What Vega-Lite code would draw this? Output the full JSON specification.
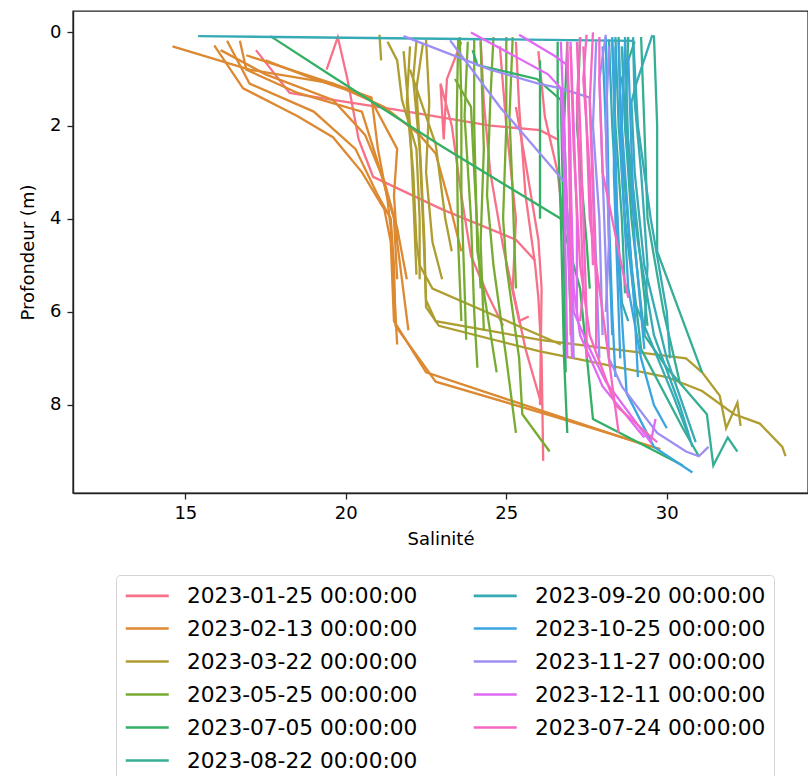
{
"$schema": "https://vega.github.io/schema/vega-lite/v6.json",
"width": 735, "height": 482,
"autosize": {"type": "none"},
"padding": {"left": 73, "top": 11, "right": 0, "bottom": 283},
"background": "white",
"datasets": {"dates": [
{"g":"A","date":"2023-01-25 00:00:00"},{"g":"B","date":"2023-02-13 00:00:00"},{"g":"C","date":"2023-03-22 00:00:00"},{"g":"D","date":"2023-05-25 00:00:00"},{"g":"E","date":"2023-07-05 00:00:00"},{"g":"F","date":"2023-08-22 00:00:00"},{"g":"G","date":"2023-09-20 00:00:00"},{"g":"H","date":"2023-10-25 00:00:00"},{"g":"I","date":"2023-11-27 00:00:00"},{"g":"J","date":"2023-12-11 00:00:00"},{"g":"K","date":"2023-07-24 00:00:00"}
]},
"data": {"values": [
{"g":"A","p":"A1","s":17.2,"z":0.38},{"g":"A","p":"A1","s":18.25,"z":1.3},{"g":"A","p":"A1","s":19.6,"z":1.45},{"g":"A","p":"A1","s":21.5,"z":1.65},{"g":"A","p":"A1","s":24.5,"z":2.0},{"g":"A","p":"A1","s":26.05,"z":2.1},{"g":"A","p":"A1","s":26.6,"z":2.3},
{"g":"A","p":"A2","s":19.4,"z":0.8},{"g":"A","p":"A2","s":19.75,"z":0.1},{"g":"A","p":"A2","s":20.05,"z":1.0},{"g":"A","p":"A2","s":20.4,"z":2.3},{"g":"A","p":"A2","s":20.85,"z":3.1},{"g":"A","p":"A2","s":23.0,"z":3.8},{"g":"A","p":"A2","s":25.3,"z":4.45},{"g":"A","p":"A2","s":25.9,"z":4.9},
{"g":"A","p":"A3","s":23.6,"z":0.2},{"g":"A","p":"A3","s":23.15,"z":1.0},{"g":"A","p":"A3","s":23.05,"z":2.3},{"g":"A","p":"A3","s":22.95,"z":1.1},{"g":"A","p":"A3","s":23.3,"z":2.0},{"g":"A","p":"A3","s":23.6,"z":3.5},{"g":"A","p":"A3","s":23.9,"z":4.8},{"g":"A","p":"A3","s":24.4,"z":5.6},{"g":"A","p":"A3","s":24.9,"z":6.3},
{"g":"A","p":"A4","s":24.2,"z":0.15},{"g":"A","p":"A4","s":24.3,"z":1.5},{"g":"A","p":"A4","s":24.5,"z":3.0},{"g":"A","p":"A4","s":24.9,"z":4.6},{"g":"A","p":"A4","s":25.4,"z":6.2},{"g":"A","p":"A4","s":25.7,"z":6.1},
{"g":"A","p":"A5","s":25.3,"z":0.2},{"g":"A","p":"A5","s":25.4,"z":1.6},{"g":"A","p":"A5","s":25.6,"z":3.5},{"g":"A","p":"A5","s":25.9,"z":5.0},{"g":"A","p":"A5","s":26.0,"z":5.7},{"g":"A","p":"A5","s":26.1,"z":7.0},{"g":"A","p":"A5","s":26.15,"z":9.2},
{"g":"A","p":"A6","s":25.3,"z":1.6},{"g":"A","p":"A6","s":25.6,"z":2.8},{"g":"A","p":"A6","s":26.0,"z":4.45},{"g":"A","p":"A6","s":26.1,"z":5.5},{"g":"A","p":"A6","s":26.05,"z":8.0},
{"g":"A","p":"A7","s":24.8,"z":0.3},{"g":"A","p":"A7","s":25.0,"z":2.0},{"g":"A","p":"A7","s":25.3,"z":4.0},{"g":"A","p":"A7","s":25.2,"z":5.5},{"g":"A","p":"A7","s":25.6,"z":6.8},{"g":"A","p":"A7","s":26.1,"z":8.0},
{"g":"A","p":"A8","s":26.0,"z":0.4},{"g":"A","p":"A8","s":26.2,"z":1.8},{"g":"A","p":"A8","s":26.6,"z":3.0},{"g":"A","p":"A8","s":26.8,"z":4.2},
{"g":"B","p":"B1","s":14.6,"z":0.3},{"g":"B","p":"B1","s":17.0,"z":0.8},{"g":"B","p":"B1","s":19.6,"z":1.1},{"g":"B","p":"B1","s":20.8,"z":1.4},{"g":"B","p":"B1","s":21.0,"z":2.5},{"g":"B","p":"B1","s":21.3,"z":3.6},{"g":"B","p":"B1","s":21.4,"z":4.2},{"g":"B","p":"B1","s":21.5,"z":5.5},{"g":"B","p":"B1","s":21.6,"z":6.7},
{"g":"B","p":"B2","s":15.9,"z":0.28},{"g":"B","p":"B2","s":16.8,"z":1.2},{"g":"B","p":"B2","s":18.5,"z":1.8},{"g":"B","p":"B2","s":19.6,"z":2.25},{"g":"B","p":"B2","s":20.5,"z":3.0},{"g":"B","p":"B2","s":21.2,"z":3.8},{"g":"B","p":"B2","s":21.4,"z":4.5},{"g":"B","p":"B2","s":21.5,"z":6.2},{"g":"B","p":"B2","s":22.5,"z":7.3},{"g":"B","p":"B2","s":26.0,"z":8.1},{"g":"B","p":"B2","s":29.5,"z":8.9},
{"g":"B","p":"B3","s":16.3,"z":0.18},{"g":"B","p":"B3","s":17.0,"z":1.1},{"g":"B","p":"B3","s":19.0,"z":1.7},{"g":"B","p":"B3","s":20.3,"z":2.5},{"g":"B","p":"B3","s":21.0,"z":3.5},{"g":"B","p":"B3","s":21.4,"z":4.0},{"g":"B","p":"B3","s":21.5,"z":5.0},{"g":"B","p":"B3","s":21.55,"z":6.3},{"g":"B","p":"B3","s":22.8,"z":7.5},{"g":"B","p":"B3","s":26.5,"z":8.25},{"g":"B","p":"B3","s":29.8,"z":8.95},
{"g":"B","p":"B4","s":16.7,"z":0.18},{"g":"B","p":"B4","s":16.9,"z":0.8},{"g":"B","p":"B4","s":18.5,"z":1.3},{"g":"B","p":"B4","s":20.5,"z":1.7},{"g":"B","p":"B4","s":21.0,"z":2.8},{"g":"B","p":"B4","s":21.5,"z":4.0},{"g":"B","p":"B4","s":21.6,"z":5.3},
{"g":"B","p":"B5","s":16.1,"z":0.38},{"g":"B","p":"B5","s":17.5,"z":0.9},{"g":"B","p":"B5","s":19.6,"z":1.45},{"g":"B","p":"B5","s":20.6,"z":2.2},{"g":"B","p":"B5","s":21.2,"z":3.2},{"g":"B","p":"B5","s":21.6,"z":4.2},{"g":"B","p":"B5","s":21.9,"z":5.3},
{"g":"B","p":"B6","s":16.9,"z":0.49},{"g":"B","p":"B6","s":19.6,"z":1.1},{"g":"B","p":"B6","s":21.2,"z":1.6},{"g":"B","p":"B6","s":22.3,"z":2.2},{"g":"B","p":"B6","s":22.8,"z":2.6},{"g":"B","p":"B6","s":23.2,"z":3.6},{"g":"B","p":"B6","s":23.6,"z":4.7},
{"g":"B","p":"B7","s":17.5,"z":0.6},{"g":"B","p":"B7","s":19.0,"z":1.0},{"g":"B","p":"B7","s":20.75,"z":1.4},{"g":"B","p":"B7","s":21.6,"z":2.5},{"g":"B","p":"B7","s":21.5,"z":3.5},{"g":"B","p":"B7","s":21.6,"z":4.5},{"g":"B","p":"B7","s":21.95,"z":6.4},
{"g":"C","p":"C1","s":21.05,"z":0.05},{"g":"C","p":"C1","s":21.1,"z":0.6},
{"g":"C","p":"C2","s":21.3,"z":0.2},{"g":"C","p":"C2","s":21.6,"z":0.6},{"g":"C","p":"C2","s":21.75,"z":1.45},{"g":"C","p":"C2","s":22.2,"z":2.5},{"g":"C","p":"C2","s":22.3,"z":4.0},{"g":"C","p":"C2","s":22.3,"z":5.3},
{"g":"C","p":"C3","s":22.0,"z":0.3},{"g":"C","p":"C3","s":21.9,"z":1.5},{"g":"C","p":"C3","s":22.1,"z":3.0},{"g":"C","p":"C3","s":22.2,"z":4.5},{"g":"C","p":"C3","s":22.3,"z":5.0},{"g":"C","p":"C3","s":22.7,"z":5.5},{"g":"C","p":"C3","s":26.7,"z":6.7},
{"g":"C","p":"C4","s":22.2,"z":0.2},{"g":"C","p":"C4","s":22.1,"z":1.0},{"g":"C","p":"C4","s":22.3,"z":2.5},{"g":"C","p":"C4","s":22.4,"z":4.0},{"g":"C","p":"C4","s":22.5,"z":5.75},{"g":"C","p":"C4","s":22.8,"z":6.2},{"g":"C","p":"C4","s":26.05,"z":6.6},{"g":"C","p":"C4","s":30.6,"z":7.0},{"g":"C","p":"C4","s":31.1,"z":7.3},{"g":"C","p":"C4","s":31.65,"z":7.8},{"g":"C","p":"C4","s":31.85,"z":8.5},{"g":"C","p":"C4","s":32.2,"z":7.95},{"g":"C","p":"C4","s":32.3,"z":8.45},
{"g":"C","p":"C5","s":22.4,"z":0.25},{"g":"C","p":"C5","s":22.2,"z":1.2},{"g":"C","p":"C5","s":22.35,"z":3.0},{"g":"C","p":"C5","s":22.45,"z":4.5},{"g":"C","p":"C5","s":22.5,"z":5.9},{"g":"C","p":"C5","s":22.9,"z":6.3},{"g":"C","p":"C5","s":26.05,"z":6.85},{"g":"C","p":"C5","s":30.0,"z":7.4},{"g":"C","p":"C5","s":31.1,"z":7.7},{"g":"C","p":"C5","s":32.1,"z":8.2},{"g":"C","p":"C5","s":32.9,"z":8.4},{"g":"C","p":"C5","s":33.6,"z":8.9},{"g":"C","p":"C5","s":33.7,"z":9.1},
{"g":"C","p":"C6","s":22.0,"z":0.8},{"g":"C","p":"C6","s":22.6,"z":2.0},{"g":"C","p":"C6","s":22.8,"z":2.4},{"g":"C","p":"C6","s":23.1,"z":4.0},{"g":"C","p":"C6","s":23.3,"z":4.7},
{"g":"C","p":"C7","s":22.5,"z":0.15},{"g":"C","p":"C7","s":22.6,"z":1.5},{"g":"C","p":"C7","s":22.5,"z":3.0},{"g":"C","p":"C7","s":22.7,"z":4.5},{"g":"C","p":"C7","s":23.0,"z":5.3},
{"g":"C","p":"C8","s":21.8,"z":0.4},{"g":"C","p":"C8","s":22.0,"z":2.0},{"g":"C","p":"C8","s":22.1,"z":3.5},{"g":"C","p":"C8","s":22.2,"z":5.2},
{"g":"D","p":"D1","s":23.55,"z":0.1},{"g":"D","p":"D1","s":23.6,"z":1.5},{"g":"D","p":"D1","s":23.6,"z":3.5},{"g":"D","p":"D1","s":23.7,"z":5.5},{"g":"D","p":"D1","s":23.75,"z":6.6},
{"g":"D","p":"D2","s":23.8,"z":0.2},{"g":"D","p":"D2","s":23.7,"z":1.8},{"g":"D","p":"D2","s":23.9,"z":4.0},{"g":"D","p":"D2","s":24.0,"z":6.0},{"g":"D","p":"D2","s":24.1,"z":7.2},
{"g":"D","p":"D3","s":24.0,"z":0.15},{"g":"D","p":"D3","s":24.0,"z":2.0},{"g":"D","p":"D3","s":24.1,"z":4.7},{"g":"D","p":"D3","s":24.4,"z":6.0},{"g":"D","p":"D3","s":24.7,"z":7.3},
{"g":"D","p":"D4","s":24.6,"z":0.1},{"g":"D","p":"D4","s":24.5,"z":1.5},{"g":"D","p":"D4","s":24.4,"z":3.5},{"g":"D","p":"D4","s":24.6,"z":5.0},{"g":"D","p":"D4","s":25.0,"z":7.0},{"g":"D","p":"D4","s":25.3,"z":8.6},
{"g":"D","p":"D5","s":25.0,"z":0.1},{"g":"D","p":"D5","s":25.0,"z":2.0},{"g":"D","p":"D5","s":24.9,"z":4.0},{"g":"D","p":"D5","s":25.0,"z":5.0},{"g":"D","p":"D5","s":25.4,"z":7.0},{"g":"D","p":"D5","s":25.5,"z":8.2},{"g":"D","p":"D5","s":26.35,"z":9.0},
{"g":"D","p":"D6","s":25.2,"z":0.1},{"g":"D","p":"D6","s":25.1,"z":1.8},{"g":"D","p":"D6","s":25.2,"z":3.5},{"g":"D","p":"D6","s":25.3,"z":5.5},
{"g":"D","p":"D7","s":23.5,"z":0.15},{"g":"D","p":"D7","s":23.45,"z":2.0},{"g":"D","p":"D7","s":23.5,"z":4.5},{"g":"D","p":"D7","s":23.6,"z":6.2},
{"g":"D","p":"D8","s":24.2,"z":0.2},{"g":"D","p":"D8","s":24.3,"z":2.5},{"g":"D","p":"D8","s":24.2,"z":4.5},{"g":"D","p":"D8","s":24.3,"z":6.4},
{"g":"D","p":"D9","s":23.4,"z":1.0},{"g":"D","p":"D9","s":23.9,"z":1.6},{"g":"D","p":"D9","s":24.0,"z":3.0},{"g":"D","p":"D9","s":24.2,"z":5.5},
{"g":"E","p":"E1","s":17.65,"z":0.08},{"g":"E","p":"E1","s":19.6,"z":0.95},{"g":"E","p":"E1","s":23.0,"z":2.45},{"g":"E","p":"E1","s":26.7,"z":4.0},{"g":"E","p":"E1","s":26.75,"z":5.5},{"g":"E","p":"E1","s":26.8,"z":7.0},{"g":"E","p":"E1","s":26.9,"z":8.6},
{"g":"E","p":"E2","s":23.95,"z":0.38},{"g":"E","p":"E2","s":24.1,"z":0.7},{"g":"E","p":"E2","s":25.95,"z":1.0},{"g":"E","p":"E2","s":26.7,"z":1.45},{"g":"E","p":"E2","s":26.75,"z":3.0},{"g":"E","p":"E2","s":26.8,"z":5.0},{"g":"E","p":"E2","s":26.85,"z":7.3},
{"g":"E","p":"E3","s":26.05,"z":0.6},{"g":"E","p":"E3","s":26.05,"z":2.5},{"g":"E","p":"E3","s":26.05,"z":4.0},
{"g":"E","p":"E4","s":26.6,"z":0.2},{"g":"E","p":"E4","s":26.6,"z":2.0},{"g":"E","p":"E4","s":26.7,"z":4.0},{"g":"E","p":"E4","s":27.3,"z":5.5},{"g":"E","p":"E4","s":27.7,"z":8.3},{"g":"E","p":"E4","s":30.5,"z":9.3},
{"g":"E","p":"E5","s":26.9,"z":0.2},{"g":"E","p":"E5","s":26.8,"z":2.0},{"g":"E","p":"E5","s":26.9,"z":4.0},{"g":"E","p":"E5","s":27.0,"z":6.0},
{"g":"E","p":"E6","s":27.3,"z":0.1},{"g":"E","p":"E6","s":27.2,"z":2.0},{"g":"E","p":"E6","s":27.5,"z":4.5},{"g":"E","p":"E6","s":27.6,"z":5.5},
{"g":"F","p":"F1","s":29.6,"z":0.06},{"g":"F","p":"F1","s":29.7,"z":2.0},{"g":"F","p":"F1","s":29.7,"z":4.7},{"g":"F","p":"F1","s":30.4,"z":6.0},{"g":"F","p":"F1","s":31.1,"z":7.3},
{"g":"F","p":"F2","s":28.8,"z":0.1},{"g":"F","p":"F2","s":28.7,"z":2.0},{"g":"F","p":"F2","s":28.9,"z":4.0},{"g":"F","p":"F2","s":29.3,"z":6.5},{"g":"F","p":"F2","s":30.0,"z":7.2},{"g":"F","p":"F2","s":31.25,"z":8.2},{"g":"F","p":"F2","s":31.45,"z":9.3},{"g":"F","p":"F2","s":31.9,"z":8.7},{"g":"F","p":"F2","s":32.2,"z":9.0},
{"g":"F","p":"F3","s":29.0,"z":0.2},{"g":"F","p":"F3","s":28.6,"z":1.0},{"g":"F","p":"F3","s":28.9,"z":3.0},{"g":"F","p":"F3","s":29.2,"z":5.0},{"g":"F","p":"F3","s":29.4,"z":6.3},
{"g":"F","p":"F4","s":28.5,"z":0.1},{"g":"F","p":"F4","s":28.6,"z":2.5},{"g":"F","p":"F4","s":28.9,"z":5.0},{"g":"F","p":"F4","s":29.2,"z":6.8},{"g":"F","p":"F4","s":30.5,"z":8.5},{"g":"F","p":"F4","s":31.0,"z":9.1},
{"g":"F","p":"F5","s":29.2,"z":0.1},{"g":"F","p":"F5","s":29.3,"z":2.0},{"g":"F","p":"F5","s":29.4,"z":4.0},{"g":"F","p":"F5","s":29.9,"z":6.0},{"g":"F","p":"F5","s":30.4,"z":7.5},
{"g":"F","p":"F6","s":28.3,"z":0.2},{"g":"F","p":"F6","s":28.4,"z":2.0},{"g":"F","p":"F6","s":28.6,"z":4.0},{"g":"F","p":"F6","s":28.7,"z":5.6},
{"g":"G","p":"G1","s":15.4,"z":0.08},{"g":"G","p":"G1","s":28.95,"z":0.18},{"g":"G","p":"G1","s":29.0,"z":1.5},{"g":"G","p":"G1","s":29.2,"z":3.0},{"g":"G","p":"G1","s":29.4,"z":5.0},{"g":"G","p":"G1","s":29.3,"z":6.5},
{"g":"G","p":"G2","s":29.55,"z":0.06},{"g":"G","p":"G2","s":29.05,"z":1.1},{"g":"G","p":"G2","s":28.9,"z":1.5},{"g":"G","p":"G2","s":29.0,"z":3.0},{"g":"G","p":"G2","s":29.3,"z":5.0},{"g":"G","p":"G2","s":30.0,"z":7.0},{"g":"G","p":"G2","s":30.9,"z":8.8},
{"g":"G","p":"G3","s":28.4,"z":0.1},{"g":"G","p":"G3","s":28.5,"z":2.0},{"g":"G","p":"G3","s":28.7,"z":4.0},{"g":"G","p":"G3","s":29.0,"z":5.8},{"g":"G","p":"G3","s":30.2,"z":7.8},{"g":"G","p":"G3","s":30.7,"z":8.7},
{"g":"G","p":"G4","s":28.2,"z":0.15},{"g":"G","p":"G4","s":28.3,"z":2.0},{"g":"G","p":"G4","s":28.5,"z":4.5},{"g":"G","p":"G4","s":28.6,"z":5.8},{"g":"G","p":"G4","s":28.8,"z":6.2},
{"g":"G","p":"G5","s":28.7,"z":0.1},{"g":"G","p":"G5","s":28.8,"z":2.5},{"g":"G","p":"G5","s":29.1,"z":4.5},{"g":"G","p":"G5","s":29.6,"z":6.5},{"g":"G","p":"G5","s":30.4,"z":8.0},{"g":"G","p":"G5","s":30.8,"z":8.9},
{"g":"G","p":"G6","s":28.95,"z":0.1},{"g":"G","p":"G6","s":29.1,"z":2.0},{"g":"G","p":"G6","s":29.5,"z":4.0},{"g":"G","p":"G6","s":30.0,"z":6.0},{"g":"G","p":"G6","s":30.1,"z":7.0},
{"g":"G","p":"G7","s":28.6,"z":0.3},{"g":"G","p":"G7","s":28.7,"z":2.0},{"g":"G","p":"G7","s":28.9,"z":3.5},{"g":"G","p":"G7","s":29.0,"z":4.2},
{"g":"H","p":"H1","s":28.1,"z":0.1},{"g":"H","p":"H1","s":28.15,"z":2.0},{"g":"H","p":"H1","s":28.2,"z":4.0},{"g":"H","p":"H1","s":28.3,"z":6.0},{"g":"H","p":"H1","s":28.4,"z":7.4},
{"g":"H","p":"H2","s":28.3,"z":0.1},{"g":"H","p":"H2","s":28.4,"z":2.5},{"g":"H","p":"H2","s":28.5,"z":5.0},{"g":"H","p":"H2","s":28.75,"z":7.75},{"g":"H","p":"H2","s":29.6,"z":8.9},{"g":"H","p":"H2","s":30.8,"z":9.45},
{"g":"H","p":"H3","s":28.5,"z":0.2},{"g":"H","p":"H3","s":28.6,"z":3.0},{"g":"H","p":"H3","s":28.8,"z":5.5},{"g":"H","p":"H3","s":29.2,"z":7.0},{"g":"H","p":"H3","s":29.6,"z":8.0},{"g":"H","p":"H3","s":30.0,"z":8.5},
{"g":"H","p":"H4","s":28.0,"z":0.3},{"g":"H","p":"H4","s":28.1,"z":2.0},{"g":"H","p":"H4","s":28.2,"z":4.5},{"g":"H","p":"H4","s":28.3,"z":6.5},
{"g":"H","p":"H5","s":28.7,"z":0.2},{"g":"H","p":"H5","s":28.6,"z":2.0},{"g":"H","p":"H5","s":28.8,"z":4.0},{"g":"H","p":"H5","s":29.0,"z":6.0},{"g":"H","p":"H5","s":29.1,"z":7.4},
{"g":"H","p":"H6","s":28.8,"z":0.5},{"g":"H","p":"H6","s":28.9,"z":2.5},{"g":"H","p":"H6","s":29.0,"z":4.5},{"g":"H","p":"H6","s":29.3,"z":6.8},
{"g":"H","p":"H7","s":28.4,"z":0.3},{"g":"H","p":"H7","s":28.35,"z":3.0},{"g":"H","p":"H7","s":28.5,"z":6.0},{"g":"H","p":"H7","s":28.55,"z":7.0},
{"g":"I","p":"I1","s":21.8,"z":0.08},{"g":"I","p":"I1","s":24.5,"z":0.8},{"g":"I","p":"I1","s":26.0,"z":1.1},{"g":"I","p":"I1","s":26.7,"z":1.2},{"g":"I","p":"I1","s":27.6,"z":1.4},{"g":"I","p":"I1","s":27.7,"z":3.0},{"g":"I","p":"I1","s":27.8,"z":5.0},{"g":"I","p":"I1","s":27.9,"z":7.0},
{"g":"I","p":"I2","s":23.25,"z":0.17},{"g":"I","p":"I2","s":24.8,"z":1.6},{"g":"I","p":"I2","s":26.05,"z":2.6},{"g":"I","p":"I2","s":26.8,"z":3.2},{"g":"I","p":"I2","s":27.0,"z":4.5},{"g":"I","p":"I2","s":27.1,"z":7.0},
{"g":"I","p":"I3","s":28.1,"z":0.05},{"g":"I","p":"I3","s":27.9,"z":1.0},{"g":"I","p":"I3","s":28.0,"z":3.0},{"g":"I","p":"I3","s":28.1,"z":5.0},{"g":"I","p":"I3","s":28.2,"z":7.0},{"g":"I","p":"I3","s":28.6,"z":7.6},{"g":"I","p":"I3","s":29.7,"z":8.6},{"g":"I","p":"I3","s":30.6,"z":9.0},{"g":"I","p":"I3","s":31.0,"z":9.1},{"g":"I","p":"I3","s":31.3,"z":8.9},
{"g":"I","p":"I4","s":27.8,"z":0.2},{"g":"I","p":"I4","s":27.7,"z":2.0},{"g":"I","p":"I4","s":27.9,"z":4.0},{"g":"I","p":"I4","s":28.0,"z":6.5},
{"g":"I","p":"I5","s":28.2,"z":0.3},{"g":"I","p":"I5","s":28.1,"z":2.0},{"g":"I","p":"I5","s":28.2,"z":4.5},{"g":"I","p":"I5","s":28.1,"z":6.0},
{"g":"J","p":"J1","s":23.9,"z":0.0},{"g":"J","p":"J1","s":26.3,"z":0.9},{"g":"J","p":"J1","s":26.7,"z":1.2},{"g":"J","p":"J1","s":26.8,"z":3.0},{"g":"J","p":"J1","s":26.85,"z":5.0},{"g":"J","p":"J1","s":26.9,"z":7.0},
{"g":"J","p":"J2","s":25.4,"z":0.05},{"g":"J","p":"J2","s":26.5,"z":0.5},{"g":"J","p":"J2","s":26.9,"z":0.7},{"g":"J","p":"J2","s":27.0,"z":2.5},{"g":"J","p":"J2","s":27.0,"z":4.5},{"g":"J","p":"J2","s":27.1,"z":6.0},{"g":"J","p":"J2","s":27.6,"z":6.8},{"g":"J","p":"J2","s":28.1,"z":7.5},{"g":"J","p":"J2","s":29.5,"z":8.8},{"g":"J","p":"J2","s":29.65,"z":8.3},
{"g":"J","p":"J3","s":26.7,"z":0.2},{"g":"J","p":"J3","s":26.8,"z":2.0},{"g":"J","p":"J3","s":26.9,"z":4.0},{"g":"J","p":"J3","s":27.0,"z":6.0},{"g":"J","p":"J3","s":27.05,"z":7.0},
{"g":"J","p":"J4","s":27.0,"z":0.2},{"g":"J","p":"J4","s":27.1,"z":2.0},{"g":"J","p":"J4","s":27.2,"z":4.0},{"g":"J","p":"J4","s":27.2,"z":6.0},
{"g":"J","p":"J5","s":26.9,"z":0.4},{"g":"J","p":"J5","s":27.0,"z":3.0},{"g":"J","p":"J5","s":27.1,"z":5.5},{"g":"J","p":"J5","s":27.3,"z":6.5},{"g":"J","p":"J5","s":28.0,"z":7.6},{"g":"J","p":"J5","s":29.3,"z":8.7},
{"g":"K","p":"K1","s":27.2,"z":0.2},{"g":"K","p":"K1","s":27.3,"z":2.0},{"g":"K","p":"K1","s":27.4,"z":4.0},{"g":"K","p":"K1","s":27.5,"z":6.0},{"g":"K","p":"K1","s":27.5,"z":7.0},
{"g":"K","p":"K2","s":27.4,"z":0.3},{"g":"K","p":"K2","s":27.5,"z":2.0},{"g":"K","p":"K2","s":27.6,"z":4.0},{"g":"K","p":"K2","s":28.0,"z":6.0},{"g":"K","p":"K2","s":28.5,"z":8.6},
{"g":"K","p":"K3","s":27.0,"z":0.3},{"g":"K","p":"K3","s":27.1,"z":2.5},{"g":"K","p":"K3","s":27.3,"z":5.0},{"g":"K","p":"K3","s":27.6,"z":6.5},{"g":"K","p":"K3","s":28.4,"z":8.0},{"g":"K","p":"K3","s":29.7,"z":8.8},
{"g":"K","p":"K4","s":27.7,"z":0.0},{"g":"K","p":"K4","s":27.6,"z":1.5},{"g":"K","p":"K4","s":27.7,"z":3.5},{"g":"K","p":"K4","s":27.8,"z":5.5},{"g":"K","p":"K4","s":27.8,"z":6.8},
{"g":"K","p":"K5","s":26.9,"z":0.2},{"g":"K","p":"K5","s":26.95,"z":2.0},{"g":"K","p":"K5","s":27.0,"z":5.0},{"g":"K","p":"K5","s":27.0,"z":6.5},
{"g":"K","p":"K6","s":27.9,"z":0.1},{"g":"K","p":"K6","s":27.9,"z":1.0},{"g":"K","p":"K6","s":28.0,"z":3.0},{"g":"K","p":"K6","s":28.8,"z":5.7},
{"g":"K","p":"K7","s":27.5,"z":0.05},{"g":"K","p":"K7","s":27.4,"z":1.0},{"g":"K","p":"K7","s":27.6,"z":3.0},{"g":"K","p":"K7","s":27.7,"z":5.0},
{"g":"K","p":"K8","s":27.3,"z":0.1},{"g":"K","p":"K8","s":27.2,"z":1.5},{"g":"K","p":"K8","s":27.3,"z":3.5},{"g":"K","p":"K8","s":27.4,"z":5.5},{"g":"K","p":"K8","s":27.3,"z":6.2}
]},
"transform": [{"lookup": "g", "from": {"data": {"name": "dates"}, "key": "g", "fields": ["date"]}}],
"mark": {"type": "line", "strokeWidth": 2.3, "clip": true},
"encoding": {
  "x": {"field": "s", "type": "quantitative", "title": "Salinité",
        "scale": {"domain": [11.5, 34.4], "nice": false, "zero": false},
        "axis": {"values": [15, 20, 25, 30], "labelPadding": 5, "titlePadding": 8}},
  "y": {"field": "z", "type": "quantitative", "title": "Profondeur (m)",
        "scale": {"domain": [-0.46, 9.89], "nice": false, "zero": false, "reverse": true},
        "axis": {"values": [0, 2, 4, 6, 8], "labelPadding": 6, "titlePadding": 12}},
  "color": {"field": "date", "type": "nominal",
    "scale": {
      "domain": ["2023-01-25 00:00:00","2023-02-13 00:00:00","2023-03-22 00:00:00","2023-05-25 00:00:00","2023-07-05 00:00:00","2023-08-22 00:00:00","2023-09-20 00:00:00","2023-10-25 00:00:00","2023-11-27 00:00:00","2023-12-11 00:00:00","2023-07-24 00:00:00"],
      "range": ["#f77189","#dc8932","#ae9d31","#77ab31","#33b064","#35ae93","#37abb5","#3ba5e0","#9c8ff4","#e06af4","#f668c2"]},
    "legend": {"title": null, "orient": "none", "legendX": 43, "legendY": 564, "columns": 2,
      "symbolType": "M-1,0H3", "symbolSize": 462, "symbolStrokeWidth": 2.7,
      "labelFont": "DejaVu Sans", "labelFontSize": 21.7, "labelColor": "#000", "labelOffset": 38, "labelLimit": 400,
      "rowPadding": 8, "columnPadding": 50, "padding": 8,
      "strokeColor": "#d4d4d4", "fillColor": "white", "cornerRadius": 4}},
  "detail": {"field": "p"},
  "order": {"value": null}
},
"config": {
  "font": "DejaVu Sans",
  "view": {"stroke": "#222", "strokeWidth": 1.4},
  "axis": {"grid": false, "domainColor": "#222", "domainWidth": 1.4, "tickColor": "#222", "tickWidth": 1.3, "tickSize": 6,
           "labelFont": "DejaVu Sans", "labelFontSize": 18, "labelColor": "#000",
           "titleFont": "DejaVu Sans", "titleFontSize": 18, "titleFontWeight": "normal", "titleColor": "#000"}
}
}
